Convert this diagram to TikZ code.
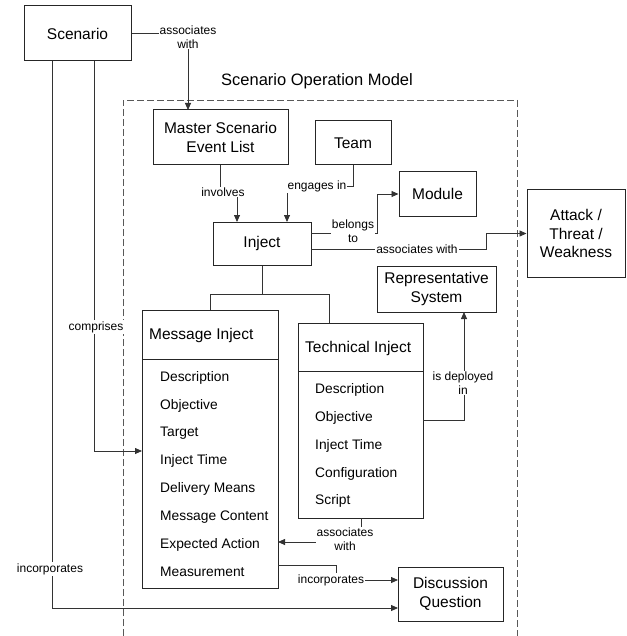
\documentclass[tikz,border=0pt]{standalone}
\usepackage{fontspec}
\setmainfont{Liberation Sans}
\usetikzlibrary{arrows.meta}
\tikzset{
  box/.style={draw=black!85, line width=1pt, fill=white, align=center,
    font=\fontsize{15.5}{18.5}\selectfont, inner sep=0pt},
  conn/.style={draw=black!80, line width=0.8pt},
  arr/.style={conn, -{Triangle[length=7pt,width=6pt]}},
  lbl/.style={fill=white, inner sep=1pt, align=center,
    font=\fontsize{12}{14}\selectfont},
  item/.style={anchor=base west, inner sep=0pt, font=\fontsize{13.8}{16}\selectfont},
  head/.style={anchor=base west, inner sep=0pt, font=\fontsize{15.5}{18}\selectfont},
  frame/.style={draw=black!65, line width=0.9pt, dash pattern=on 7pt off 3pt},
}
\begin{document}
\begin{tikzpicture}[x=1pt,y=-1pt]
\useasboundingbox (0,0) rectangle (626,636);

% model frame (open at the bottom)
\draw[frame] (123,636) -- (123,100) -- (517,100) -- (517,636);
\node[font=\fontsize{16.5}{19}\selectfont] (title) at (317,81) {Scenario Operation Model};

% boxes
\node[box, minimum width=107pt, minimum height=55pt] (scen) at (77.5,33.5) {Scenario};
\node[box, minimum width=135pt, minimum height=55pt] (msel) at (220.5,137.5) {Master Scenario\\Event List};
\node[box, minimum width=76pt, minimum height=44pt] (team) at (353,143) {Team};
\node[box, minimum width=77pt, minimum height=44pt] (module) at (437.5,194) {Module};
\node[box, minimum width=98pt, minimum height=87pt] (attack) at (576,233.5) {Attack /\\Threat /\\Weakness};
\node[box, minimum width=98pt, minimum height=43pt] (inject) at (262,243.5) {Inject};
\node[box, minimum width=119pt, minimum height=46pt] (rep) at (436.5,289) {Representative\\System};
\node[box, minimum width=105pt, minimum height=54pt] (disc) at (450.5,594) {Discussion\\Question};

% Message Inject class box
\node[box, minimum width=136pt, minimum height=278pt] (msg) at (210,449) {};
\draw[draw=black!85, line width=1pt] (142,359) -- (278,359);
\node[head] (msgh) at (149,339.5) {Message Inject};
\node[item] (m1) at (160,381) {Description};
\node[item] (m2) at (160,409) {Objective};
\node[item] (m3) at (160,436) {Target};
\node[item] (m4) at (160,464) {Inject Time};
\node[item] (m5) at (160,492) {Delivery Means};
\node[item] (m6) at (160,520) {Message Content};
\node[item] (m7) at (160,548) {Expected Action};
\node[item] (m8) at (160,576) {Measurement};

% Technical Inject class box
\node[box, minimum width=125pt, minimum height=195pt] (tech) at (360.5,420.5) {};
\draw[draw=black!85, line width=1pt] (298,371) -- (423,371);
\node[head] (techh) at (305,352.5) {Technical Inject};
\node[item] (t1) at (315,393) {Description};
\node[item] (t2) at (315,421) {Objective};
\node[item] (t3) at (315,449) {Inject Time};
\node[item] (t4) at (315,477) {Configuration};
\node[item] (t5) at (315,504) {Script};

% connectors
\draw[arr] (scen.east) -- (188,33.5) -- (188,110);
\node[lbl] (l1) at (188,37) {associates\\with};

\draw[arr] (msel.south) -- (220.5,192) -- (237,192) -- (237,222);
\node[lbl] (l2) at (223,192) {involves};

\draw[arr] (team.south) -- (353,186) -- (287,186) -- (287,222);
\node[lbl] (l3) at (317,186) {engages in};

\draw[arr] (311,233) -- (377,233) -- (377,194) -- (module.west);
\node[lbl, inner sep=0.5pt] (l4) at (353,231) {belongs\\to};

\draw[arr] (311,249) -- (486,249) -- (486,233.5) -- (attack.west);
\node[lbl] (l5) at (417,249) {associates with};

\draw[conn] (inject.south) -- (262,294);
\draw[conn] (msg.north) -- (210,294) -- (329,294) -- (329,323);

\draw[arr] (423,420) -- (464,420) -- (464,312);
\node[lbl] (l6) at (463,383) {is deployed\\in};

\draw[arr] (361,518) -- (361,542) -- (278,542);
\node[lbl] (l7) at (345,539) {associates\\with};

\draw[arr] (278,565) -- (336,565) -- (336,580) -- (398,580);
\node[lbl] (l8) at (331,580) {incorporates};

\draw[arr] (52,61) -- (52,608) -- (398,608);
\node[lbl] (l9) at (50,569) {incorporates};

\draw[arr] (94,61) -- (94,451) -- (142,451);
\node[lbl] (l10) at (96,327) {comprises};
\end{tikzpicture}
\end{document}
